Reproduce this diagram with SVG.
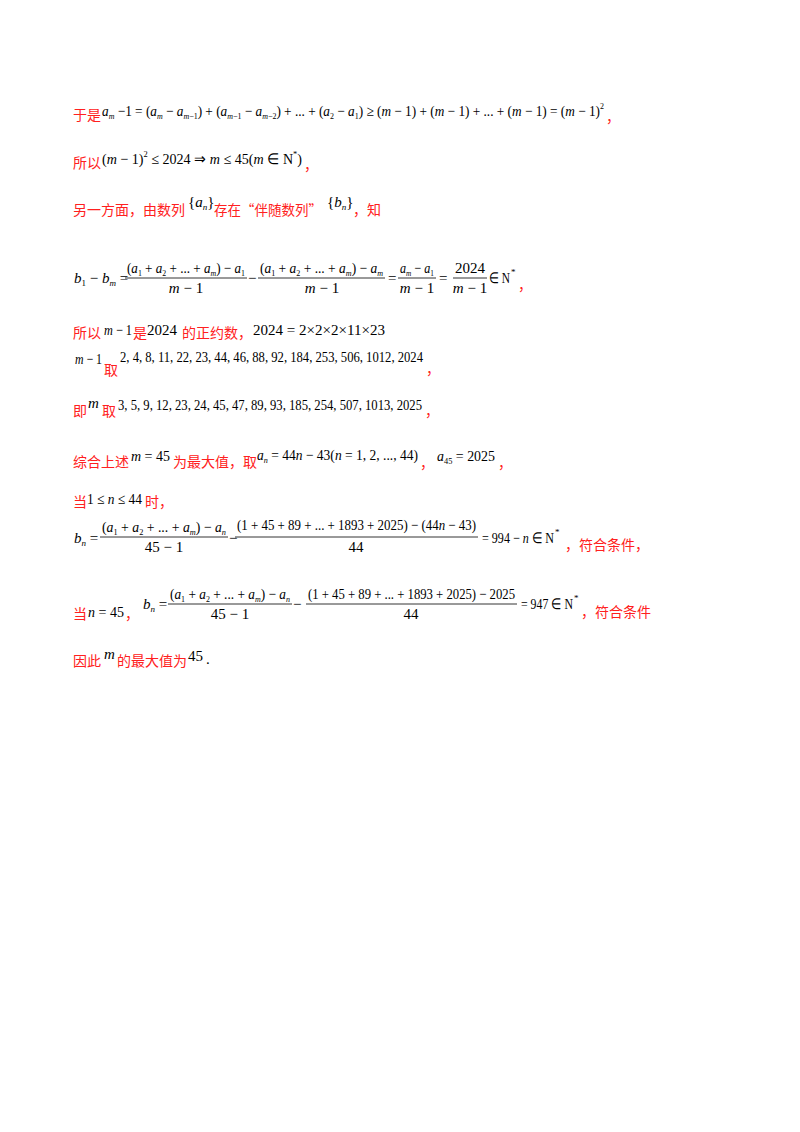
<svg xmlns="http://www.w3.org/2000/svg" width="800" height="1132" viewBox="0 0 800 1132">
<style>
.r{font-family:"Noto Sans CJK SC","Noto Sans",sans-serif;font-size:14px;fill:#ff2020}
.m{font-family:"Liberation Serif",serif;font-size:15px;fill:#000}
.i{font-style:italic}
.s{font-size:9px}
.c{text-anchor:middle}
.b{stroke:#000;stroke-width:0.8}
</style>
<rect width="800" height="1132" fill="#fff"/>
<!-- line 1 -->
<text x="73" y="120" class="r">于是</text>
<text x="102" y="116" class="m" textLength="502" lengthAdjust="spacingAndGlyphs"><tspan class="i">a</tspan><tspan class="i s" dy="3">m</tspan><tspan dy="-3"> −1 = (</tspan><tspan class="i">a</tspan><tspan class="i s" dy="3">m</tspan><tspan dy="-3"> − </tspan><tspan class="i">a</tspan><tspan class="s" dy="3"><tspan class="i">m</tspan>−1</tspan><tspan dy="-3">) + (</tspan><tspan class="i">a</tspan><tspan class="s" dy="3"><tspan class="i">m</tspan>−1</tspan><tspan dy="-3"> − </tspan><tspan class="i">a</tspan><tspan class="s" dy="3"><tspan class="i">m</tspan>−2</tspan><tspan dy="-3">) + ... + (</tspan><tspan class="i">a</tspan><tspan class="s" dy="3">2</tspan><tspan dy="-3"> − </tspan><tspan class="i">a</tspan><tspan class="s" dy="3">1</tspan><tspan dy="-3">) ≥ (</tspan><tspan class="i">m</tspan><tspan> − 1) + (</tspan><tspan class="i">m</tspan><tspan> − 1) + ... + (</tspan><tspan class="i">m</tspan><tspan> − 1) = (</tspan><tspan class="i">m</tspan><tspan> − 1)</tspan><tspan class="s" dy="-7">2</tspan></text>
<text x="606" y="122" class="r">，</text>
<!-- line 2 -->
<text x="73" y="168" class="r">所以</text>
<text x="102" y="164" class="m" textLength="200" lengthAdjust="spacingAndGlyphs">(<tspan class="i">m</tspan> − 1)<tspan class="s" dy="-7">2</tspan><tspan dy="7"> ≤ 2024 ⇒ </tspan><tspan class="i">m</tspan> ≤ 45(<tspan class="i">m</tspan> ∈ N<tspan class="s" dy="-7">*</tspan><tspan dy="7">)</tspan></text>
<text x="304" y="170" class="r">，</text>
<!-- line 3 -->
<text x="73" y="215" class="r">另一方面，由数列</text>
<text x="188" y="207" class="m">{<tspan class="i">a</tspan><tspan class="i s" dy="3">n</tspan><tspan dy="-3">}</tspan></text>
<text x="214" y="215" class="r" textLength="108" lengthAdjust="spacingAndGlyphs">存在“伴随数列”</text>
<text x="327" y="207" class="m">{<tspan class="i">b</tspan><tspan class="i s" dy="3">n</tspan><tspan dy="-3">}</tspan></text>
<text x="353" y="215" class="r">，知</text>
<!-- line 4 -->
<text x="74" y="283" class="m"><tspan class="i">b</tspan><tspan class="s" dy="3">1</tspan><tspan dy="-3"> − </tspan><tspan class="i">b</tspan><tspan class="i s" dy="3">m</tspan><tspan dy="-3"> =</tspan></text>
<text x="127" y="273" class="m" textLength="118" lengthAdjust="spacingAndGlyphs">(<tspan class="i">a</tspan><tspan class="s" dy="3">1</tspan><tspan dy="-3"> + </tspan><tspan class="i">a</tspan><tspan class="s" dy="3">2</tspan><tspan dy="-3"> + ... + </tspan><tspan class="i">a</tspan><tspan class="i s" dy="3">m</tspan><tspan dy="-3">) − </tspan><tspan class="i">a</tspan><tspan class="s" dy="3">1</tspan></text>
<line x1="125" y1="278" x2="247" y2="278" class="b"/>
<text x="186" y="293" class="m c"><tspan class="i">m</tspan> − 1</text>
<text x="248" y="283" class="m">−</text>
<text x="260" y="273" class="m" textLength="123" lengthAdjust="spacingAndGlyphs">(<tspan class="i">a</tspan><tspan class="s" dy="3">1</tspan><tspan dy="-3"> + </tspan><tspan class="i">a</tspan><tspan class="s" dy="3">2</tspan><tspan dy="-3"> + ... + </tspan><tspan class="i">a</tspan><tspan class="i s" dy="3">m</tspan><tspan dy="-3">) − </tspan><tspan class="i">a</tspan><tspan class="i s" dy="3">m</tspan></text>
<line x1="258" y1="278" x2="385" y2="278" class="b"/>
<text x="322" y="293" class="m c"><tspan class="i">m</tspan> − 1</text>
<text x="388" y="283" class="m">=</text>
<text x="400" y="273" class="m" textLength="34" lengthAdjust="spacingAndGlyphs"><tspan class="i">a</tspan><tspan class="i s" dy="3">m</tspan><tspan dy="-3"> − </tspan><tspan class="i">a</tspan><tspan class="s" dy="3">1</tspan></text>
<line x1="398" y1="278" x2="436" y2="278" class="b"/>
<text x="417" y="293" class="m c"><tspan class="i">m</tspan> − 1</text>
<text x="439" y="283" class="m">=</text>
<text x="470" y="273" class="m c">2024</text>
<line x1="453" y1="278" x2="487" y2="278" class="b"/>
<text x="470" y="293" class="m c"><tspan class="i">m</tspan> − 1</text>
<text x="489" y="283" class="m" textLength="21" lengthAdjust="spacingAndGlyphs">∈ N</text>
<text x="511" y="275" class="m s">*</text>
<text x="518" y="290" class="r">，</text>
<!-- line 5 -->
<text x="73" y="338" class="r">所以</text>
<text x="104" y="335" class="m" textLength="28" lengthAdjust="spacingAndGlyphs"><tspan class="i">m</tspan> − 1</text>
<text x="133" y="338" class="r">是</text>
<text x="147" y="335" class="m">2024</text>
<text x="182" y="338" class="r">的正约数，</text>
<text x="253" y="335" class="m" textLength="132" lengthAdjust="spacingAndGlyphs">2024 = 2×2×2×11×23</text>
<!-- line 6 -->
<text x="75" y="364" class="m" textLength="27" lengthAdjust="spacingAndGlyphs"><tspan class="i">m</tspan> − 1</text>
<text x="104" y="375" class="r">取</text>
<text x="120" y="362" class="m" textLength="303" lengthAdjust="spacingAndGlyphs">2, 4, 8, 11, 22, 23, 44, 46, 88, 92, 184, 253, 506, 1012, 2024</text>
<text x="426" y="374" class="r">，</text>
<!-- line 7 -->
<text x="73" y="416" class="r">即</text>
<text x="88" y="408" class="m i">m</text>
<text x="102" y="416" class="r">取</text>
<text x="118" y="410" class="m" textLength="304" lengthAdjust="spacingAndGlyphs">3, 5, 9, 12, 23, 24, 45, 47, 89, 93, 185, 254, 507, 1013, 2025</text>
<text x="425" y="416" class="r">，</text>
<!-- line 8 -->
<text x="73" y="467" class="r">综合上述</text>
<text x="131" y="461" class="m" textLength="39" lengthAdjust="spacingAndGlyphs"><tspan class="i">m</tspan> = 45</text>
<text x="173" y="467" class="r">为最大值，取</text>
<text x="257" y="460" class="m" textLength="161" lengthAdjust="spacingAndGlyphs"><tspan class="i">a</tspan><tspan class="i s" dy="3">n</tspan><tspan dy="-3"> = 44</tspan><tspan class="i">n</tspan> − 43(<tspan class="i">n</tspan> = 1, 2, ..., 44)</text>
<text x="420" y="468" class="r">，</text>
<text x="437" y="461" class="m" textLength="58" lengthAdjust="spacingAndGlyphs"><tspan class="i">a</tspan><tspan class="s" dy="3">45</tspan><tspan dy="-3"> = 2025</tspan></text>
<text x="498" y="468" class="r">，</text>
<!-- line 9 -->
<text x="73" y="507" class="r">当</text>
<text x="87" y="504" class="m" textLength="55" lengthAdjust="spacingAndGlyphs">1 ≤ <tspan class="i">n</tspan> ≤ 44</text>
<text x="145" y="507" class="r">时，</text>
<!-- line 10 -->
<text x="74" y="543" class="m"><tspan class="i">b</tspan><tspan class="i s" dy="3">n</tspan><tspan dy="-3"> =</tspan></text>
<text x="102" y="532" class="m" textLength="124" lengthAdjust="spacingAndGlyphs">(<tspan class="i">a</tspan><tspan class="s" dy="3">1</tspan><tspan dy="-3"> + </tspan><tspan class="i">a</tspan><tspan class="s" dy="3">2</tspan><tspan dy="-3"> + ... + </tspan><tspan class="i">a</tspan><tspan class="i s" dy="3">m</tspan><tspan dy="-3">) − </tspan><tspan class="i">a</tspan><tspan class="i s" dy="3">n</tspan></text>
<line x1="100" y1="537" x2="228" y2="537" class="b"/>
<text x="164" y="552" class="m c">45 − 1</text>
<text x="229" y="543" class="m">−</text>
<text x="237" y="530" class="m" textLength="239" lengthAdjust="spacingAndGlyphs">(1 + 45 + 89 + ... + 1893 + 2025) − (44<tspan class="i">n</tspan> − 43)</text>
<line x1="235" y1="537" x2="478" y2="537" class="b"/>
<text x="356" y="552" class="m c">44</text>
<text x="482" y="543" class="m" textLength="72" lengthAdjust="spacingAndGlyphs">= 994 − <tspan class="i">n</tspan> ∈ N</text>
<text x="555" y="535" class="m s">*</text>
<text x="565" y="550" class="r">，符合条件，</text>
<!-- line 11 -->
<text x="73" y="619" class="r">当</text>
<text x="88" y="617" class="m" textLength="36" lengthAdjust="spacingAndGlyphs"><tspan class="i">n</tspan> = 45</text>
<text x="125" y="619" class="r">，</text>
<text x="143" y="609" class="m"><tspan class="i">b</tspan><tspan class="i s" dy="3">n</tspan><tspan dy="-3"> =</tspan></text>
<text x="170" y="599" class="m" textLength="120" lengthAdjust="spacingAndGlyphs">(<tspan class="i">a</tspan><tspan class="s" dy="3">1</tspan><tspan dy="-3"> + </tspan><tspan class="i">a</tspan><tspan class="s" dy="3">2</tspan><tspan dy="-3"> + ... + </tspan><tspan class="i">a</tspan><tspan class="i s" dy="3">m</tspan><tspan dy="-3">) − </tspan><tspan class="i">a</tspan><tspan class="i s" dy="3">n</tspan></text>
<line x1="168" y1="604" x2="292" y2="604" class="b"/>
<text x="230" y="619" class="m c">45 − 1</text>
<text x="293" y="609" class="m">−</text>
<text x="308" y="599" class="m" textLength="207" lengthAdjust="spacingAndGlyphs">(1 + 45 + 89 + ... + 1893 + 2025) − 2025</text>
<line x1="306" y1="604" x2="517" y2="604" class="b"/>
<text x="411" y="619" class="m c">44</text>
<text x="521" y="609" class="m" textLength="52" lengthAdjust="spacingAndGlyphs">= 947 ∈ N</text>
<text x="574" y="601" class="m s">*</text>
<text x="581" y="617" class="r">，符合条件</text>
<!-- line 12 -->
<text x="73" y="666" class="r">因此</text>
<text x="104" y="659" class="m i">m</text>
<text x="117" y="666" class="r">的最大值为</text>
<text x="188" y="661" class="m">45</text>
<text x="206" y="664" class="m">.</text>
</svg>
